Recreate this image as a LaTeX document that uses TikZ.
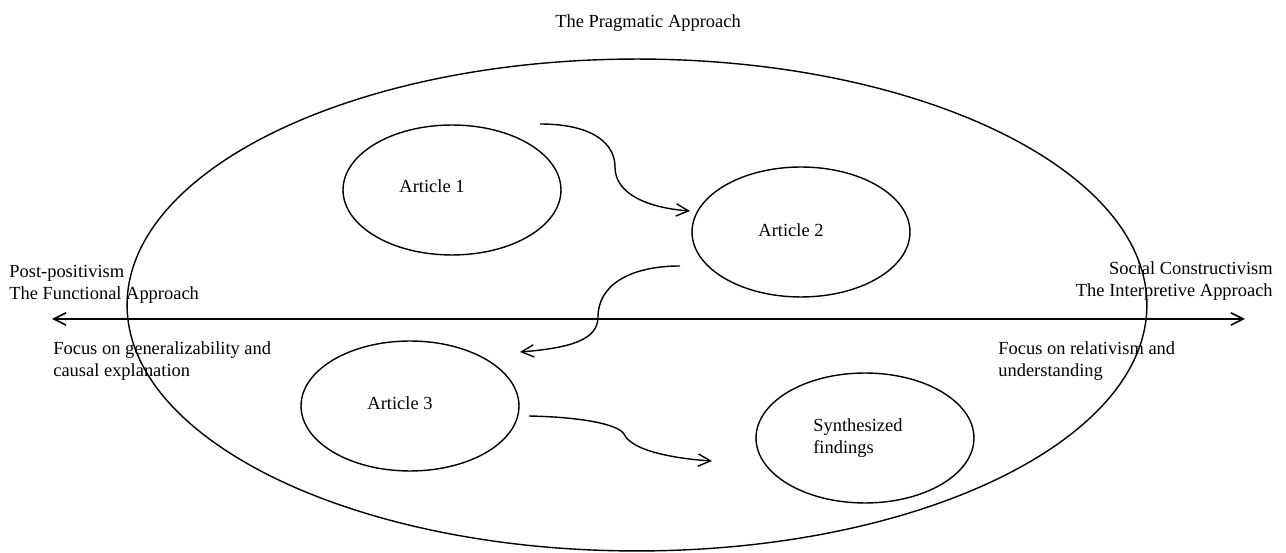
\documentclass[tikz,border=0pt]{standalone}
\usepackage{fontspec}
\setmainfont{Liberation Serif}
\usetikzlibrary{arrows.meta}
\usetikzlibrary{shapes.geometric}

\begin{document}
\begin{tikzpicture}[x=0.02cm,y=-0.02cm]
\useasboundingbox (0,0) rectangle (1286,553);

\begin{scope}[every node/.style={font=\fontsize{10.5}{12.5}\selectfont,inner sep=0pt}]
    \node[draw,ellipse,line width=0.8pt,minimum width=20.4cm,minimum height=9.84cm] (pragm) at (637,305) {};
    \node (pragm_txt) at (648,23) {The Pragmatic Approach};
    \node[anchor=north west,align=left] (post) at (9,265) {Post-positivism\\The Functional Approach};
    \node[anchor=north west,align=left] (post_focus) at (53,341) {Focus on generalizability and\\causal explanation};
    \node[anchor=north east,align=right] (social) at (1273,261) {Social Constructivism\\The Interpretive Approach};
    \node[anchor=north west,align=left] (social_focus) at (998,341) {Focus on relativism and\\understanding};
\end{scope}

\begin{scope}[every node/.style={draw,ellipse,line width=0.8pt,minimum width=4.36cm,minimum height=2.6cm}]
    \node (art1)  at (452,190) {};
    \node (art2)  at (801,232) {};
    \node (art3)  at (410,406) {};
    \node (synth) at (865,438) {};
\end{scope}

\begin{scope}[every node/.style={font=\fontsize{10.5}{12.5}\selectfont,inner sep=0pt}]
    \node (art1_txt) at (432,186) {Article 1};
    \node (art2_txt) at (791,230) {Article 2};
    \node (art3_txt) at (400,403) {Article 3};
    \node[anchor=north west,align=left] (synth_txt) at (813,418) {Synthesized\\findings};
\end{scope}

\coordinate (ltip) at (52,319);
\coordinate (rtip) at (1245,319);
\coordinate (a1_out) at (540,124);
\coordinate (a2_in)  at (690,211);
\coordinate (a2_out) at (680,266);
\coordinate (a3_in)  at (520,352);
\coordinate (a3_out) at (529,416);
\coordinate (synth_in) at (712,461);

\begin{scope}[>={Straight Barb[length=7pt,width=7pt]},
              every path/.style={line width=0.8pt}]
    \draw[<->,line width=0.9pt] (ltip) -- (rtip);
    \draw[->] (a1_out) .. controls (595,124) and (615,145) .. (615,167)
                       .. controls (615,195) and (650,208) .. (a2_in);
    \draw[->] (a2_out) .. controls (630,266) and (598,285) .. (598,317)
                       .. controls (598,340) and (570,348) .. (a3_in);
    \draw[->] (a3_out) .. controls (580,417) and (618,424) .. (624,434)
                       .. controls (632,452) and (680,459) .. (synth_in);
\end{scope}
\end{tikzpicture}
\end{document}
